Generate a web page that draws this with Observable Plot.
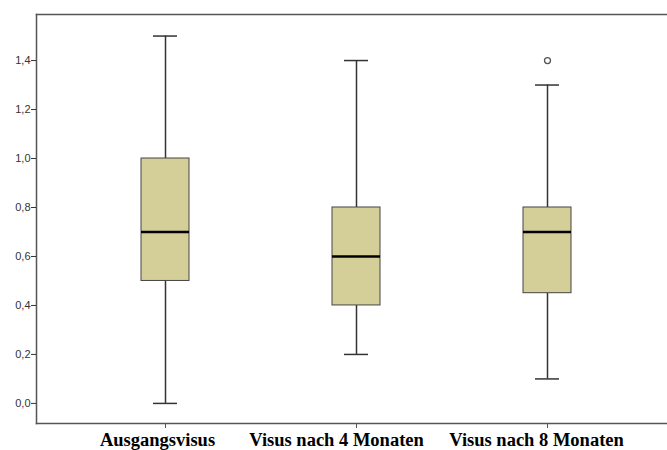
<!DOCTYPE html>
<html>
<head>
<meta charset="utf-8">
<script src="https://cdn.jsdelivr.net/npm/d3@7"></script>
<script src="https://cdn.jsdelivr.net/npm/@observablehq/plot@0.6"></script>
<style>
  html, body { margin: 0; padding: 0; background: #fff; overflow: hidden; }
</style>
</head>
<body>
<div id="chart"></div>
<script>
const categories = ["Ausgangsvisus", "Visus nach 4 Monaten", "Visus nach 8 Monaten"];
const whiskerLow = [0.0, 0.2, 0.1];
const q1 = [0.5, 0.4, 0.45];
const median = [0.7, 0.6, 0.7];
const q3 = [1.0, 0.8, 0.8];
const whiskerHigh = [1.5, 1.4, 1.3];
const outlierCategory = ["Visus nach 8 Monaten"];
const outlierValue = [1.4];
const yTicks = [0, 0.2, 0.4, 0.6, 0.8, 1.0, 1.2, 1.4];

const boxes = categories.map((c, i) => ({
  cat: c, lo: whiskerLow[i], q1: q1[i], med: median[i], q3: q3[i], hi: whiskerHigh[i]
}));
const outliers = outlierCategory.map((c, i) => ({cat: c, v: outlierValue[i]}));

const fmt = d => d3.format(".1f")(d).replace(".", ",");

// label offsets as in the original (labels sit slightly left of their ticks)
const labelShift = [-8, -20, -11];

const plot = Plot.plot({
  width: 667,
  height: 450,
  marginLeft: 36,
  marginRight: 0,
  marginTop: 14,
  marginBottom: 27,
  style: {background: "#fff", overflow: "visible"},
  x: {
    type: "band",
    domain: categories,
    range: [36, 675],
    paddingInner: 0.75,
    paddingOuter: 0.543,
    label: null
  },
  y: {
    domain: [-0.082, 1.588],
    label: null
  },
  marks: [
    Plot.frame({anchor: "top", stroke: "#555", strokeWidth: 1.5}),
    Plot.frame({anchor: "left", stroke: "#555", strokeWidth: 1.5}),
    Plot.frame({anchor: "bottom", stroke: "#555", strokeWidth: 1.5}),
    Plot.axisY({
      ticks: yTicks, tickFormat: fmt, tickSize: 5, tickPadding: 1,
      fontSize: 11, fontFamily: "Liberation Sans, Arial, sans-serif",
      color: "#333", stroke: "#333"
    }),
    Plot.axisX({tickSize: 5, tickFormat: null, stroke: "#555"}),
    ...categories.map((c, i) => Plot.axisX({
      ticks: [c], tickSize: 5, tickPadding: 4, dx: labelShift[i],
      fontSize: 18.5, fontWeight: "bold",
      fontFamily: "Liberation Serif, Times New Roman, serif",
      color: "#000", strokeOpacity: 0
    })),
    // whiskers
    Plot.ruleX(boxes, {x: "cat", y1: "lo", y2: "q1", stroke: "#333", strokeWidth: 1.5}),
    Plot.ruleX(boxes, {x: "cat", y1: "q3", y2: "hi", stroke: "#333", strokeWidth: 1.5}),
    Plot.tickY(boxes, {x: "cat", y: "lo", stroke: "#333", strokeWidth: 1.5, insetLeft: 12, insetRight: 12}),
    Plot.tickY(boxes, {x: "cat", y: "hi", stroke: "#333", strokeWidth: 1.5, insetLeft: 12, insetRight: 12}),
    // boxes
    Plot.barY(boxes, {x: "cat", y1: "q1", y2: "q3", fill: "#d4ce98", stroke: "#444", strokeWidth: 1}),
    // medians
    Plot.tickY(boxes, {x: "cat", y: "med", stroke: "#000", strokeWidth: 2.5}),
    // outliers
    Plot.dot(outliers, {x: "cat", y: "v", r: 3, stroke: "#555", strokeWidth: 1.3, fill: "#fff"})
  ]
});
document.getElementById("chart").appendChild(plot);
</script>
</body>
</html>
